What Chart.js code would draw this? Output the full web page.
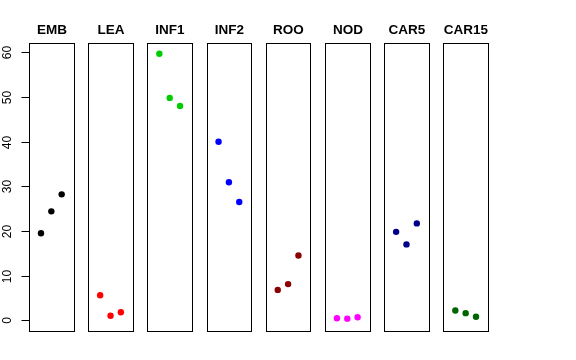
<!DOCTYPE html>
<html>
<head>
<meta charset="utf-8">
<script src="https://cdn.jsdelivr.net/npm/chart.js@4/dist/chart.umd.min.js"></script>
<style>
  html, body { margin: 0; padding: 0; background: #fff; }
  #wrap { width: 576px; height: 360px; }
</style>
</head>
<body>
<div id="wrap"><canvas id="grafico" width="576" height="360"></canvas></div>
<script>
// datos
const categorias = ["EMB", "LEA", "INF1", "INF2", "ROO", "NOD", "CAR5", "CAR15"];
const colores = ["#000000", "#FF0000", "#00CD00", "#0000FF", "#8B0000", "#FF00FF", "#00008B", "#006400"];
const valores = [
  [19.5, 24.4, 28.2],
  [5.6, 1.0, 1.8],
  [59.7, 49.8, 48.0],
  [40.0, 30.9, 26.5],
  [6.8, 8.1, 14.5],
  [0.45, 0.37, 0.67],
  [19.8, 17.0, 21.7],
  [2.2, 1.6, 0.8]
];
const yTicks = [0, 10, 20, 30, 40, 50, 60];

// cada panel ocupa de -0.16 a 4.16, los puntos en 1,2,3
const paso = 5.724;
const xMin = -0.16, xMax = 4.16;
const yMin = -2.4, yMax = 62.1;

let datasets = [];
categorias.forEach((cat, k) => {
  datasets.push({
    label: cat,
    data: valores[k].map((v, j) => ({ x: k * paso + j + 1, y: v })),
    backgroundColor: colores[k],
    borderColor: colores[k],
    pointRadius: 3.2,
    pointBorderWidth: 0,
    clip: false
  });
});

// dibuja cajas, titulos y eje y al estilo R
const panelesPlugin = {
  id: "paneles",
  afterDatasetsDraw(chart) {
    const ctx = chart.ctx;
    const xs = chart.scales.x;
    const ys = chart.scales.y;
    const top = Math.round(ys.getPixelForValue(yMax));
    const bottom = Math.round(ys.getPixelForValue(yMin));
    ctx.save();
    ctx.strokeStyle = "#000";
    ctx.lineWidth = 1;
    ctx.fillStyle = "#000";
    ctx.font = "bold 13.5px 'Liberation Sans', Arial, sans-serif";
    ctx.textAlign = "center";
    ctx.textBaseline = "alphabetic";
    categorias.forEach((cat, k) => {
      const left = Math.round(xs.getPixelForValue(k * paso + xMin));
      const right = Math.round(xs.getPixelForValue(k * paso + xMax));
      ctx.strokeRect(left + 0.5, top + 0.5, right - left, bottom - top);
      ctx.fillText(cat, (left + right) / 2 + 0.5, 34);
    });

    // eje y
    const x0 = Math.round(xs.getPixelForValue(xMin)) + 0.5;
    ctx.beginPath();
    ctx.moveTo(x0, Math.round(ys.getPixelForValue(yTicks[0])) + 0.5);
    ctx.lineTo(x0, Math.round(ys.getPixelForValue(yTicks[yTicks.length - 1])) + 0.5);
    ctx.stroke();
    ctx.font = "12px 'Liberation Sans', Arial, sans-serif";
    yTicks.forEach(t => {
      const py = Math.round(ys.getPixelForValue(t)) + 0.5;
      ctx.beginPath();
      ctx.moveTo(x0 - 8, py);
      ctx.lineTo(x0, py);
      ctx.stroke();
      ctx.save();
      ctx.translate(11, py);
      ctx.rotate(-Math.PI / 2);
      ctx.fillText(String(t), 0, 0);
      ctx.restore();
    });
    ctx.restore();
  }
};

let cfg = {
  type: "scatter",
  data: { datasets: datasets },
  options: {
    responsive: false,
    animation: false,
    layout: { padding: { left: 29, top: 43, right: 88, bottom: 29 } },
    scales: {
      x: { type: "linear", display: false, min: xMin, max: (categorias.length - 1) * paso + xMax },
      y: { type: "linear", display: false, min: yMin, max: yMax }
    },
    plugins: {
      legend: { display: false },
      tooltip: { enabled: false },
      title: { display: false }
    }
  },
  plugins: [panelesPlugin]
};

let draw = new Chart(document.getElementById("grafico"), cfg);
</script>
</body>
</html>
